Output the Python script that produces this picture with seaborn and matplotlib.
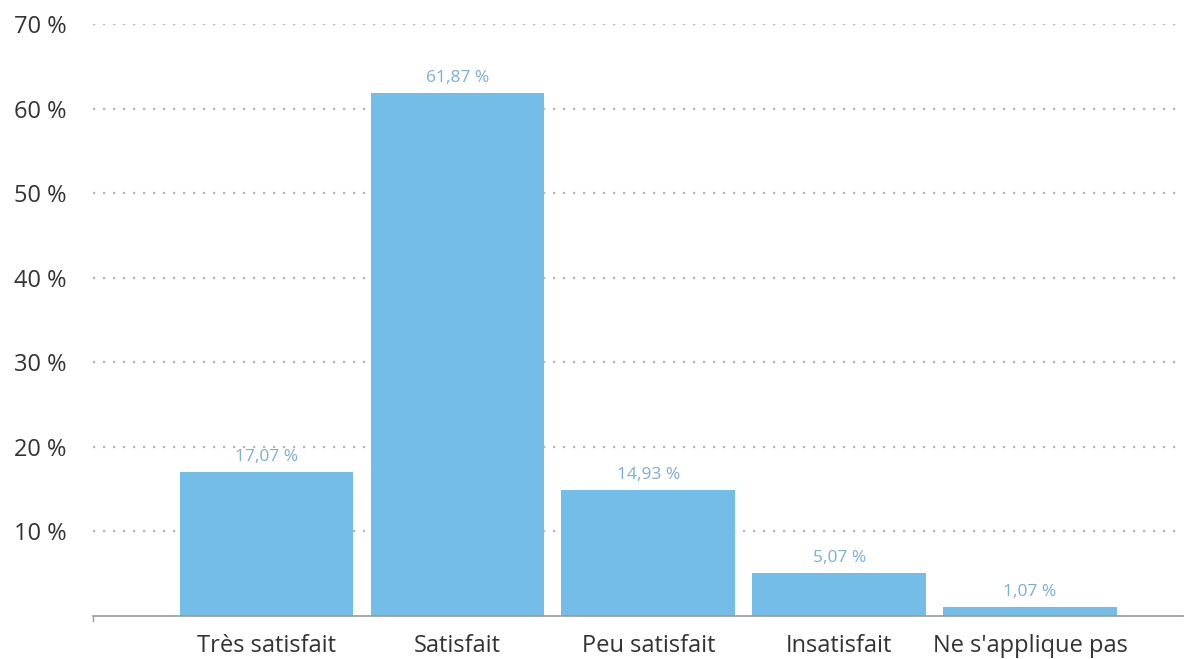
import pandas as pd
import matplotlib.pyplot as plt
import seaborn as sns

categories = ["Très satisfait", "Satisfait", "Peu satisfait", "Insatisfait", "Ne s'applique pas"]
values = [17.07, 61.87, 14.93, 5.07, 1.07]
yticks = [10, 20, 30, 40, 50, 60, 70]

sns.set_theme(style="white")
plt.rcParams['font.family'] = ['Open Sans', 'DejaVu Sans']

df = pd.DataFrame({"cat": categories, "val": values})

fig = plt.figure(figsize=(11.91, 6.59), dpi=100)
ax = fig.add_axes([0.078, 0.0653, 0.915, 0.8983])

sns.barplot(data=df, x="cat", y="val", color="#74bde8", saturation=1, width=0.91,
            linewidth=0, ax=ax)

ax.set_xlim(-0.91, 4.8)
ax.set_ylim(0, 70)
ax.set_yticks(yticks)
ax.set_yticklabels([f"{t} %" for t in yticks], fontsize=17, color="#333333")
for t in yticks:
    ax.axhline(t, color="#b5b5b5", linestyle=(0, (1, 3.5)), linewidth=1.6, zorder=0)

ax.bar_label(ax.containers[0], labels=[f"{v:.2f} %".replace(".", ",") for v in values],
             padding=5, fontsize=12.5, color="#7aafd4")

ax.tick_params(axis="y", length=0, pad=19)
ax.tick_params(axis="x", length=0, pad=13, labelsize=17, labelcolor="#333333")
ax.set_xlabel("")
ax.set_ylabel("")

for s in ["top", "right"]:
    ax.spines[s].set_visible(False)
ax.spines["bottom"].set_color("#999999")
ax.spines["bottom"].set_linewidth(1.2)
ax.spines["left"].set_bounds(-0.6, 0)
ax.spines["left"].set_color("#999999")
ax.spines["left"].set_linewidth(1)

fig.savefig("out.png", dpi=100)
